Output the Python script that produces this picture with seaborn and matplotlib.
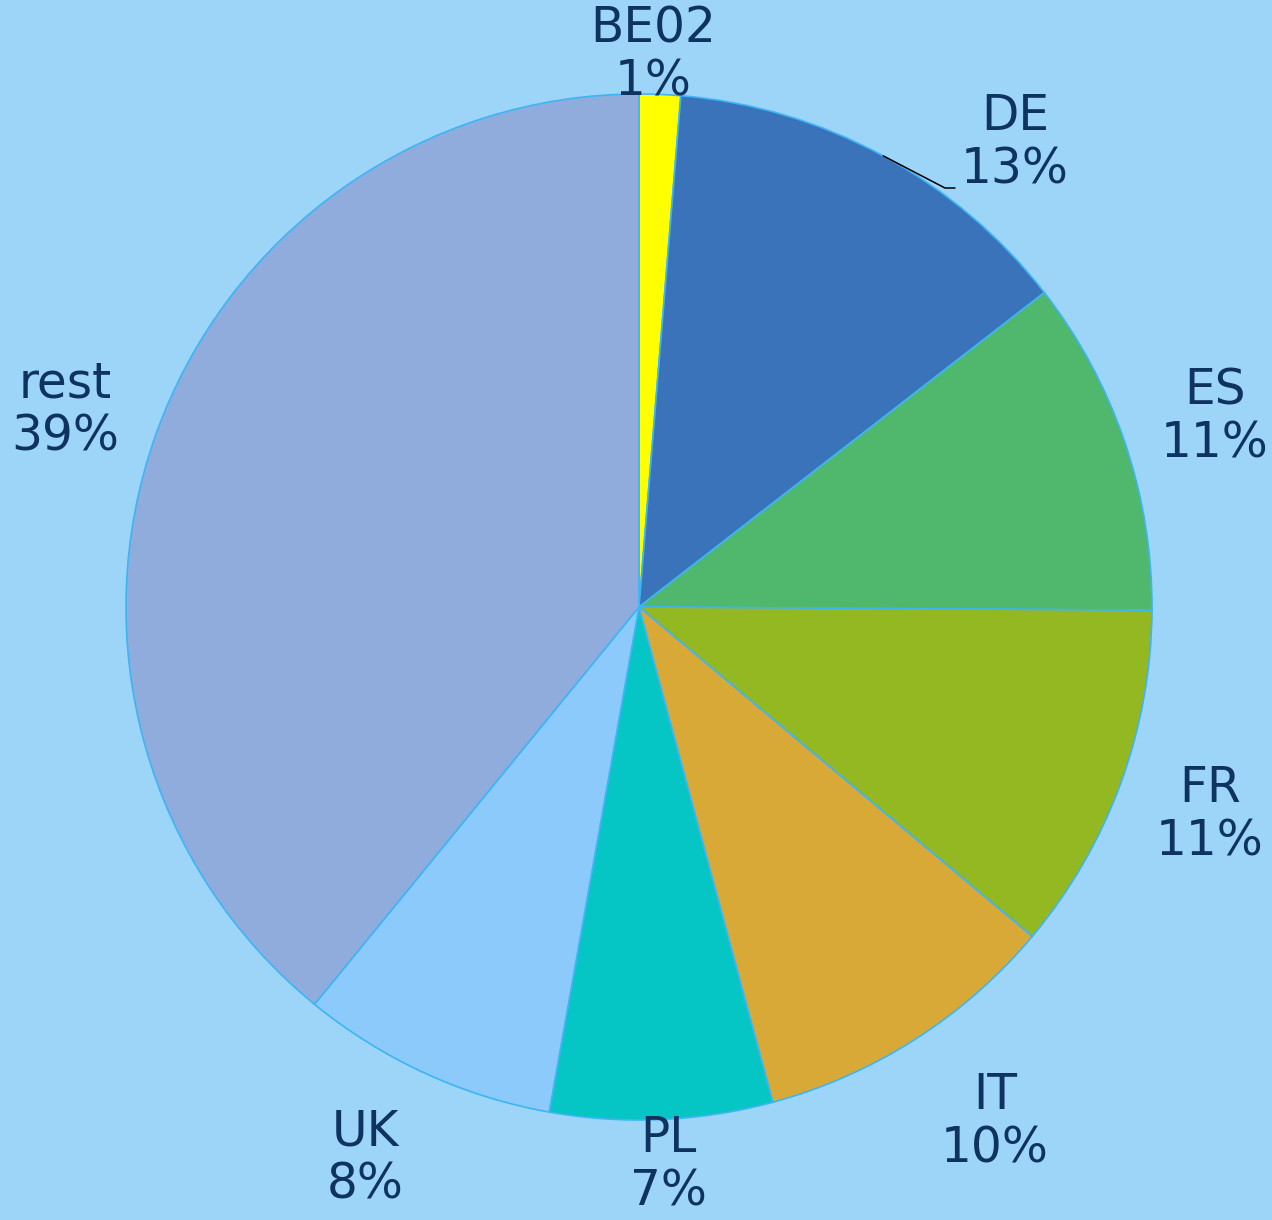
import numpy as np
import matplotlib.pyplot as plt
import seaborn as sns

# data
labels = ["BE02", "DE", "ES", "FR", "IT", "PL", "UK", "rest"]
shares = [1.3, 13.2, 10.6, 11.0, 9.7, 7.0, 8.1, 39.1]
pct_text = ["1%", "13%", "11%", "11%", "10%", "7%", "8%", "39%"]
colors = ["#FFFF00", "#3A73BA", "#50B86C", "#93B822", "#D9A937",
          "#06C5C5", "#8BCAFB", "#8FACDD"]

# label centres (pixel coords, y from top)
label_pos = [(653, 55), (1015, 143), (1215, 417), (1210, 815),
             (995, 1122), (668, 1165), (365, 1158), (65, 410)]

bg = "#9DD5F8"
edge = "#3DB5F5"
txt = "#0F3361"

sns.set_style("white")
plt.rcParams["font.family"] = ["DejaVu Sans"]

W, H = 1272, 1220
fig = plt.figure(figsize=(W / 100, H / 100), dpi=100, facecolor=bg)
ax = fig.add_axes([0, 0, 1, 1])
ax.set_facecolor(bg)

cx, cy, R = 639, H - 607, 513
wedges, _ = ax.pie(shares, colors=colors, startangle=90, counterclock=False,
                   center=(cx, cy), radius=R,
                   wedgeprops=dict(edgecolor=edge, linewidth=1.2))
ax.set_xlim(0, W)
ax.set_ylim(0, H)
ax.set_aspect("equal")
ax.axis("off")

for lab, p, (x, y) in zip(labels, pct_text, label_pos):
    ax.text(x, H - y, f"{lab}\n{p}", ha="center", va="center",
            fontsize=35, color=txt, linespacing=1.15)

# leader line for DE
w = wedges[1]
mid = np.deg2rad((w.theta1 + w.theta2) / 2)
x0, y0 = cx + R * np.cos(mid), cy + R * np.sin(mid)
ax.plot([x0, 945, 955], [y0, H - 188, H - 188], color="black", lw=1.1)

fig.savefig("out.png", dpi=100, facecolor=bg)
